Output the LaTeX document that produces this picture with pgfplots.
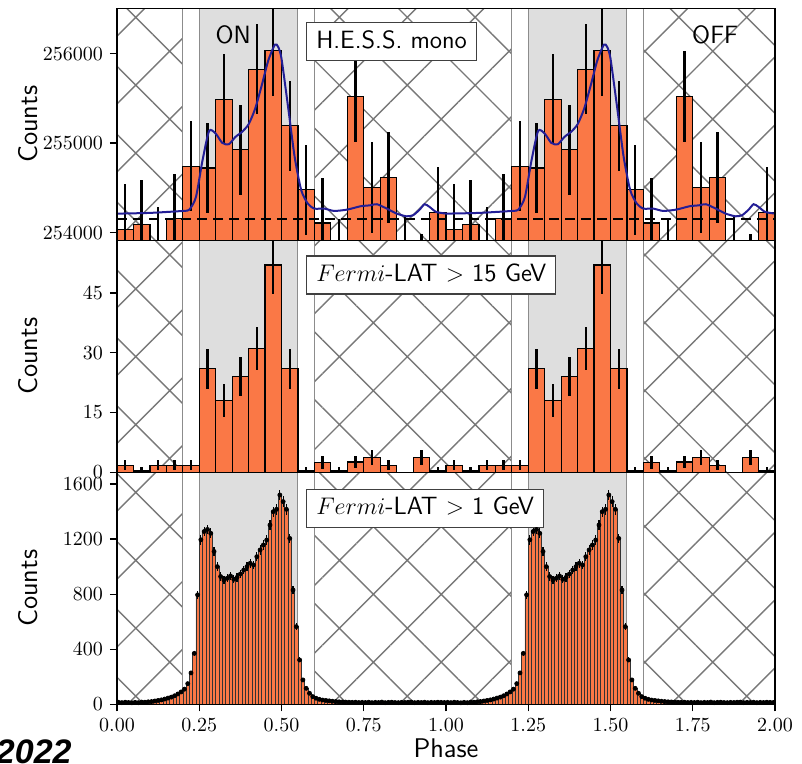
\documentclass[border=0pt]{standalone}
\usepackage{fontspec}
\usepackage{pgfplots}
\pgfplotsset{compat=1.18}
\usepackage{pgfplotstable}
\usetikzlibrary{patterns.meta}
\newfontfamily\yearfont{Liberation Sans}
\definecolor{barorange}{RGB}{250,120,70}
\definecolor{ongray}{RGB}{222,222,222}
\definecolor{hatchgray}{RGB}{120,120,120}
\definecolor{edgegray}{RGB}{140,140,140}
\definecolor{modelblue}{RGB}{35,30,150}

\pgfplotstableread{
xc v e
0.025 254034 504
0.075 254089 504
0.125 253782 504
0.175 254156 504
0.225 254741 504
0.275 254722 504
0.325 255490 504
0.375 254927 504
0.425 255825 504
0.475 256030 504
0.525 255192 504
0.575 254480 504
0.625 254108 504
0.675 253645 504
0.725 255520 504
0.775 254505 504
0.825 254616 504
0.875 253670 504
0.925 253485 504
0.975 254225 504
}\hessdata

\pgfplotstableread{
x v
0.00 254212
0.10 254220
0.20 254242
0.22 254257
0.24 254398
0.26 254808
0.28 255136
0.30 255106
0.32 255002
0.34 254987
0.36 255069
0.38 255125
0.40 255210
0.42 255385
0.44 255646
0.46 255925
0.48 256100
0.49 256074
0.50 255944
0.52 255404
0.54 254845
0.56 254473
0.58 254324
0.60 254268
0.63 254268
0.66 254242
0.70 254257
0.74 254294
0.77 254305
0.79 254317
0.82 254268
0.85 254212
0.88 254182
0.90 254194
0.92 254257
0.935 254317
0.95 254287
0.97 254231
1.00 254212
}\hessmodel

\pgfplotstableread{
xc v e
0.025 1.8 1.3
0.075 0.3 1.1
0.125 1.8 1.3
0.175 1.8 1.3
0.225 1.8 1.3
0.275 26 5.0
0.325 18 4.1
0.375 24 4.8
0.425 31 5.4
0.475 52 7.2
0.525 26 5.0
0.575 0.3 1.1
0.625 2.5 1.6
0.675 0.3 1.1
0.725 2.6 1.6
0.775 3.7 1.9
0.825 1.8 1.3
0.875 0 0
0.925 3.7 1.9
0.975 0.3 1.1
}\fermihigh

\pgfplotstableread{
xc v e
0.005 14 3.7
0.015 12 3.5
0.025 15 3.9
0.035 13 3.6
0.045 11 3.3
0.055 14 3.7
0.065 12 3.5
0.075 16 4.0
0.085 15 3.9
0.095 18 4.2
0.105 20 4.5
0.115 24 4.9
0.125 28 5.3
0.135 32 5.7
0.145 38 6.2
0.155 45 6.7
0.165 52 7.2
0.175 62 7.9
0.185 75 8.7
0.195 90 9.5
0.205 110 10.5
0.215 150 12.2
0.225 228 15.1
0.235 370 19.2
0.245 795 28.2
0.255 1195 34.6
0.265 1255 35.4
0.275 1270 35.6
0.285 1242 35.2
0.295 1110 33.3
0.305 1000 31.6
0.315 928 30.5
0.325 903 30.0
0.335 915 30.2
0.345 932 30.5
0.355 908 30.1
0.365 922 30.4
0.375 946 30.8
0.385 975 31.2
0.395 1000 31.6
0.405 1024 32.0
0.415 1012 31.8
0.425 1072 32.7
0.435 1121 33.5
0.445 1157 34.0
0.455 1193 34.5
0.465 1302 36.1
0.475 1399 37.4
0.485 1416 37.6
0.495 1520 39.0
0.505 1472 38.4
0.515 1416 37.6
0.525 1205 34.7
0.535 830 28.8
0.545 564 23.7
0.555 322 17.9
0.565 177 13.3
0.575 116 10.8
0.585 80 8.9
0.595 56 7.5
0.605 44 6.6
0.615 36 6.0
0.625 31 5.6
0.635 28 5.3
0.645 25 5.0
0.655 22 4.7
0.665 20 4.5
0.675 18 4.2
0.685 17 4.1
0.695 16 4.0
0.705 15 3.9
0.715 14 3.7
0.725 15 3.9
0.735 13 3.6
0.745 14 3.7
0.755 13 3.6
0.765 15 3.9
0.775 12 3.5
0.785 14 3.7
0.795 13 3.6
0.805 16 4.0
0.815 12 3.5
0.825 14 3.7
0.835 15 3.9
0.845 13 3.6
0.855 12 3.5
0.865 14 3.7
0.875 13 3.6
0.885 15 3.9
0.895 16 4.0
0.905 12 3.5
0.915 14 3.7
0.925 13 3.6
0.935 15 3.9
0.945 12 3.5
0.955 14 3.7
0.965 13 3.6
0.975 15 3.9
0.985 14 3.7
0.995 13 3.6
}\fermilow

\newcommand{\regions}[2]{%
  \path[draw=edgegray, line width=0.5pt, fill=ongray] (axis cs:0.25,#1) rectangle (axis cs:0.55,#2);
  \path[draw=edgegray, line width=0.5pt, fill=ongray] (axis cs:1.25,#1) rectangle (axis cs:1.55,#2);
  \path[draw=edgegray, line width=0.5pt, pattern={Hatch[angle=45,distance=24pt,line width=0.7pt]}, pattern color=hatchgray] (axis cs:0,#1) rectangle (axis cs:0.2,#2);
  \path[draw=edgegray, line width=0.5pt, pattern={Hatch[angle=45,distance=24pt,line width=0.7pt]}, pattern color=hatchgray] (axis cs:0.6,#1) rectangle (axis cs:1.2,#2);
  \path[draw=edgegray, line width=0.5pt, pattern={Hatch[angle=45,distance=24pt,line width=0.7pt]}, pattern color=hatchgray] (axis cs:1.6,#1) rectangle (axis cs:2,#2);
}
\newcommand{\boxfont}{\fontsize{12.5}{15}\selectfont\sffamily}
\newcommand{\labfont}{\fontsize{13.5}{16}\selectfont\sffamily}

\pgfplotsset{
  panel/.style={
    scale only axis, width=329pt, height=116pt,
    xmin=0, xmax=2, axis on top,
    tick align=outside, ytick pos=left, xtick pos=bottom,
    major tick length=3.5pt,
    tick style={black, line width=0.6pt},
    axis line style={line width=0.7pt},
    scaled y ticks=false,
    yticklabel style={/pgf/number format/.cd, fixed, precision=0, 1000 sep={}},
    ylabel={Counts},
    y label style={at={(axis description cs:-0.135,0.5)}, anchor=center, font=\labfont},
  },
}
\tikzset{
  boxlab/.style={anchor=north west, draw=black!75, fill=white, line width=0.6pt,
    inner xsep=4.75pt, inner ysep=3.75pt, text height=9pt, text depth=2.5pt, font=\boxfont},
}

\begin{document}
\begin{tikzpicture}
\useasboundingbox (-58.5pt,-29.85pt) rectangle (342.5pt,352.15pt);

% top panel: H.E.S.S. mono
\begin{axis}[panel, at={(0pt,232pt)}, anchor=south west,
  ymin=253914, ymax=256506, ytick={254000,255000,256000}, xtick=\empty]
  \regions{253914}{256506}
  \addplot[ybar, bar width=0.05, bar shift=0pt, fill=barorange, draw=black, line width=0.6pt] table[x=xc, y=v] {\hessdata};
  \addplot[ybar, bar width=0.05, bar shift=0pt, fill=barorange, draw=black, line width=0.6pt] table[x expr=\thisrow{xc}+1, y=v] {\hessdata};
  \addplot[draw=none, mark=none, error bars/.cd, y dir=both, y explicit, error mark=none,
    error bar style={black, line width=1.2pt, solid}] table[x=xc, y=v, y error=e] {\hessdata};
  \addplot[draw=none, mark=none, error bars/.cd, y dir=both, y explicit, error mark=none,
    error bar style={black, line width=1.2pt, solid}] table[x expr=\thisrow{xc}+1, y=v, y error=e] {\hessdata};
  \addplot[black, line width=1pt, dash pattern=on 5pt off 3pt] coordinates {(0,254156) (2,254156)};
  \addplot[modelblue, line width=1pt, smooth, tension=0.4] table[x=x, y=v] {\hessmodel};
  \addplot[modelblue, line width=1pt, smooth, tension=0.4] table[x expr=\thisrow{x}+1, y=v] {\hessmodel};
  \node[boxlab] at (axis description cs:0.2875,0.94) {H.E.S.S. mono};
  \node[font=\fontsize{12.5}{15}\selectfont\sffamily] at (axis description cs:0.1765,0.884) {ON};
  \node[font=\fontsize{12.5}{15}\selectfont\sffamily] at (axis description cs:0.909,0.884) {OFF};
\end{axis}

% middle panel: Fermi-LAT > 15 GeV
\begin{axis}[panel, at={(0pt,116pt)}, anchor=south west,
  ymin=0, ymax=58.2, ytick={0,15,30,45}, xtick=\empty]
  \regions{0}{58.2}
  \addplot[ybar, bar width=0.05, bar shift=0pt, fill=barorange, draw=black, line width=0.6pt] table[x=xc, y=v] {\fermihigh};
  \addplot[ybar, bar width=0.05, bar shift=0pt, fill=barorange, draw=black, line width=0.6pt] table[x expr=\thisrow{xc}+1, y=v] {\fermihigh};
  \addplot[draw=none, mark=none, error bars/.cd, y dir=both, y explicit, error mark=none,
    error bar style={black, line width=1.2pt, solid}] table[x=xc, y=v, y error=e] {\fermihigh};
  \addplot[draw=none, mark=none, error bars/.cd, y dir=both, y explicit, error mark=none,
    error bar style={black, line width=1.2pt, solid}] table[x expr=\thisrow{xc}+1, y=v, y error=e] {\fermihigh};
  \node[boxlab] at (axis description cs:0.2875,0.935) {$Fermi$-LAT $>$ 15 GeV};
\end{axis}

% bottom panel: Fermi-LAT > 1 GeV
\begin{axis}[panel, at={(0pt,0pt)}, anchor=south west,
  ymin=0, ymax=1685, ytick={0,400,800,1200,1600},
  xtick={0,0.25,0.5,0.75,1,1.25,1.5,1.75,2},
  xticklabel style={/pgf/number format/.cd, fixed, fixed zerofill, precision=2},
  xlabel={Phase},
  x label style={at={(axis description cs:0.5,-0.19)}, anchor=center, font=\labfont}]
  \regions{0}{1685}
  \addplot[ybar, bar width=0.01, bar shift=0pt, fill=barorange, draw=black!80, line width=0.3pt] table[x=xc, y=v] {\fermilow};
  \addplot[ybar, bar width=0.01, bar shift=0pt, fill=barorange, draw=black!80, line width=0.3pt] table[x expr=\thisrow{xc}+1, y=v] {\fermilow};
  \addplot[only marks, mark=*, mark size=1pt, black, error bars/.cd, y dir=both, y explicit, error mark=none,
    error bar style={black, line width=0.6pt}] table[x=xc, y=v, y error=e] {\fermilow};
  \addplot[only marks, mark=*, mark size=1pt, black, error bars/.cd, y dir=both, y explicit, error mark=none,
    error bar style={black, line width=0.6pt}] table[x expr=\thisrow{xc}+1, y=v, y error=e] {\fermilow};
  \node[boxlab] at (axis description cs:0.2875,0.93) {$Fermi$-LAT $>$ 1 GeV};
\end{axis}

\node[anchor=base east, inner sep=0pt, font={\yearfont\bfseries\itshape\fontsize{17}{20}\selectfont}] at (-22.5pt,-29.5pt) {2022};
\end{tikzpicture}
\end{document}
